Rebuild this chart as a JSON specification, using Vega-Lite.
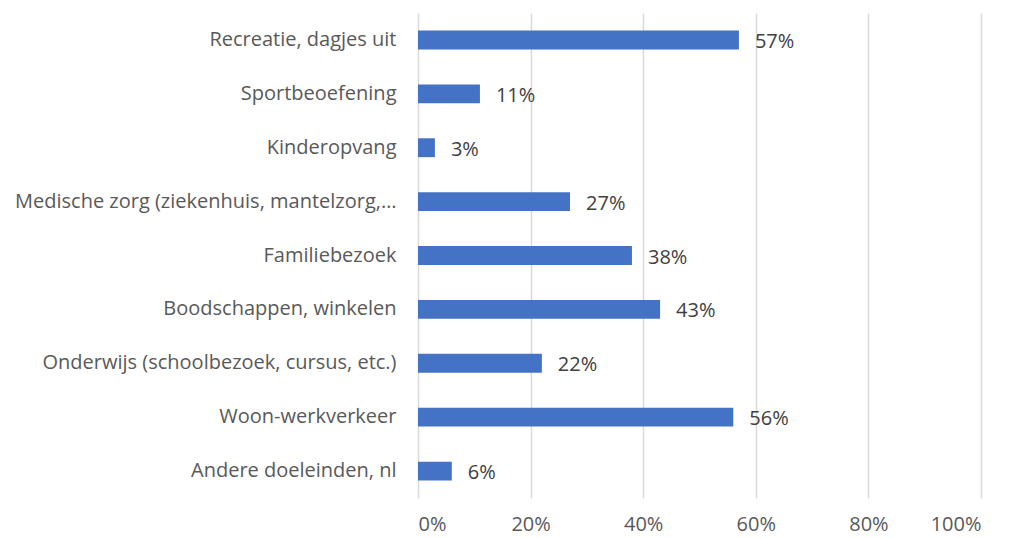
{
  "$schema": "https://vega.github.io/schema/vega-lite/v6.json",
  "width": 563,
  "height": 485,
  "autosize": "none",
  "padding": {"left": 418, "top": 13, "right": 28, "bottom": 40},
  "background": "white",
  "config": {
    "view": {"stroke": null},
    "font": "Open Sans"
  },
  "data": {
    "values": [
      {"doel": "Recreatie, dagjes uit", "pct": 0.57},
      {"doel": "Sportbeoefening", "pct": 0.11},
      {"doel": "Kinderopvang", "pct": 0.03},
      {"doel": "Medische zorg (ziekenhuis, mantelzorg,…", "pct": 0.27},
      {"doel": "Familiebezoek", "pct": 0.38},
      {"doel": "Boodschappen, winkelen", "pct": 0.43},
      {"doel": "Onderwijs (schoolbezoek, cursus, etc.)", "pct": 0.22},
      {"doel": "Woon-werkverkeer", "pct": 0.56},
      {"doel": "Andere doeleinden, nl", "pct": 0.06}
    ]
  },
  "encoding": {
    "y": {
      "field": "doel",
      "type": "nominal",
      "sort": null,
      "scale": {"paddingInner": 0.65, "paddingOuter": 0.325},
      "axis": {
        "title": null,
        "domain": false,
        "ticks": false,
        "labelPadding": 22,
        "labelFontSize": 20,
        "labelColor": "#595959",
        "labelLimit": 0
      }
    },
    "x": {
      "field": "pct",
      "type": "quantitative",
      "scale": {"domain": [0, 1], "nice": false},
      "axis": {
        "title": null,
        "format": ".0%",
        "values": [0, 0.2, 0.4, 0.6, 0.8, 1],
        "domain": false,
        "ticks": false,
        "grid": true,
        "gridColor": "#d9d9d9",
        "gridWidth": 1.5,
        "labelPadding": 16,
        "labelFontSize": 20,
        "labelColor": "#595959"
      }
    }
  },
  "layer": [
    {"mark": {"type": "bar", "color": "#4472C4"}},
    {
      "mark": {"type": "text", "align": "left", "dx": 16, "dy": 2, "fontSize": 20, "color": "#404040"},
      "encoding": {"text": {"field": "pct", "type": "quantitative", "format": ".0%"}}
    }
  ]
}
